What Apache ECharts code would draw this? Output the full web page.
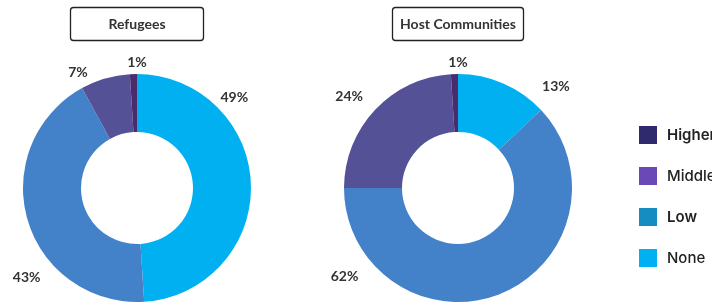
<!DOCTYPE html>
<html>
<head>
<meta charset="utf-8">
<script src="https://cdn.jsdelivr.net/npm/echarts@6/dist/echarts.min.js"></script>
<style>
  html, body { margin: 0; padding: 0; background: #fff; }
  #chart { width: 712px; height: 305px; }
</style>
</head>
<body>
<div id="chart"></div>
<script>
// categories, in clockwise order from 12 o'clock
var categories = ['None', 'Low', 'Middle', 'Higher'];
var legendOrder = ['Higher', 'Middle', 'Low', 'None'];
var refugeesValues = [49, 43, 7, 1];
var hostValues = [13, 62, 24, 1];
var groupTitles = ['Refugees', 'Host Communities'];

// colours
var sliceColors = {None: '#00b0f0', Low: '#4381c9', Middle: '#545196', Higher: '#4a2b6b'};
var legendColors = {Higher: '#2e2a6d', Middle: '#6a48b6', Low: '#168dc1', None: '#00b0f0'};
var legendWeights = {Higher: 600, Middle: 500, Low: 600, None: 500};

// label placement (angle clockwise from top in degrees, distance from centre)
var labelPlace = [
    [[47, 133], [231, 142], [333, 130], [0, 126]],
    [[44, 141], [232, 144], [310, 142], [0, 126]]
];
var centers = [[137, 188], [458, 188]];

function buildData(values) {
    return categories.map(function (name, i) {
        return {name: name, value: values[i], itemStyle: {color: sliceColors[name]}};
    });
}

function buildSeries(idx, values) {
    return {
        name: groupTitles[idx],
        type: 'pie',
        center: centers[idx],
        radius: [56, 114],
        startAngle: 90,
        clockwise: true,
        avoidLabelOverlap: false,
        itemStyle: {borderWidth: 0},
        emphasis: {scale: false},
        label: {
            show: true,
            position: 'outside',
            formatter: '{c}%',
            fontFamily: 'Lato',
            fontWeight: 'bold',
            fontSize: 14,
            color: '#333333'
        },
        labelLine: {show: false},
        labelLayout: function (params) {
            var p = labelPlace[idx][params.dataIndex];
            var a = p[0] * Math.PI / 180;
            return {
                x: centers[idx][0] + Math.sin(a) * p[1],
                y: centers[idx][1] - Math.cos(a) * p[1],
                align: 'center',
                verticalAlign: 'middle'
            };
        },
        data: buildData(values)
    };
}

function titleBox(idx, x, w) {
    return [{
        type: 'rect',
        shape: {x: x, y: 7.5, width: w, height: 33, r: 3},
        style: {fill: '#fff', stroke: '#222', lineWidth: 1.3}
    }, {
        type: 'text',
        x: x + w / 2,
        y: 24,
        style: {
            text: groupTitles[idx],
            align: 'center',
            verticalAlign: 'middle',
            font: 'bold 14px Lato',
            fill: '#333333'
        }
    }];
}

var chart = echarts.init(document.getElementById('chart'));
chart.setOption({
    animation: false,
    backgroundColor: '#ffffff',
    graphic: titleBox(0, 70.5, 133).concat(titleBox(1, 392.5, 131)),
    legend: {
        orient: 'vertical',
        left: 634,
        top: 121,
        itemWidth: 18,
        itemHeight: 18,
        itemGap: 23,
        icon: 'rect',
        selectedMode: true,
        textStyle: {fontFamily: 'Inter', fontSize: 15, color: '#222', padding: [0, 0, 0, 5]},
        data: legendOrder.map(function (name) {
            return {
                name: name,
                itemStyle: {color: legendColors[name]},
                textStyle: {fontWeight: legendWeights[name]}
            };
        })
    },
    series: [buildSeries(0, refugeesValues), buildSeries(1, hostValues)]
});
</script>
</body>
</html>
